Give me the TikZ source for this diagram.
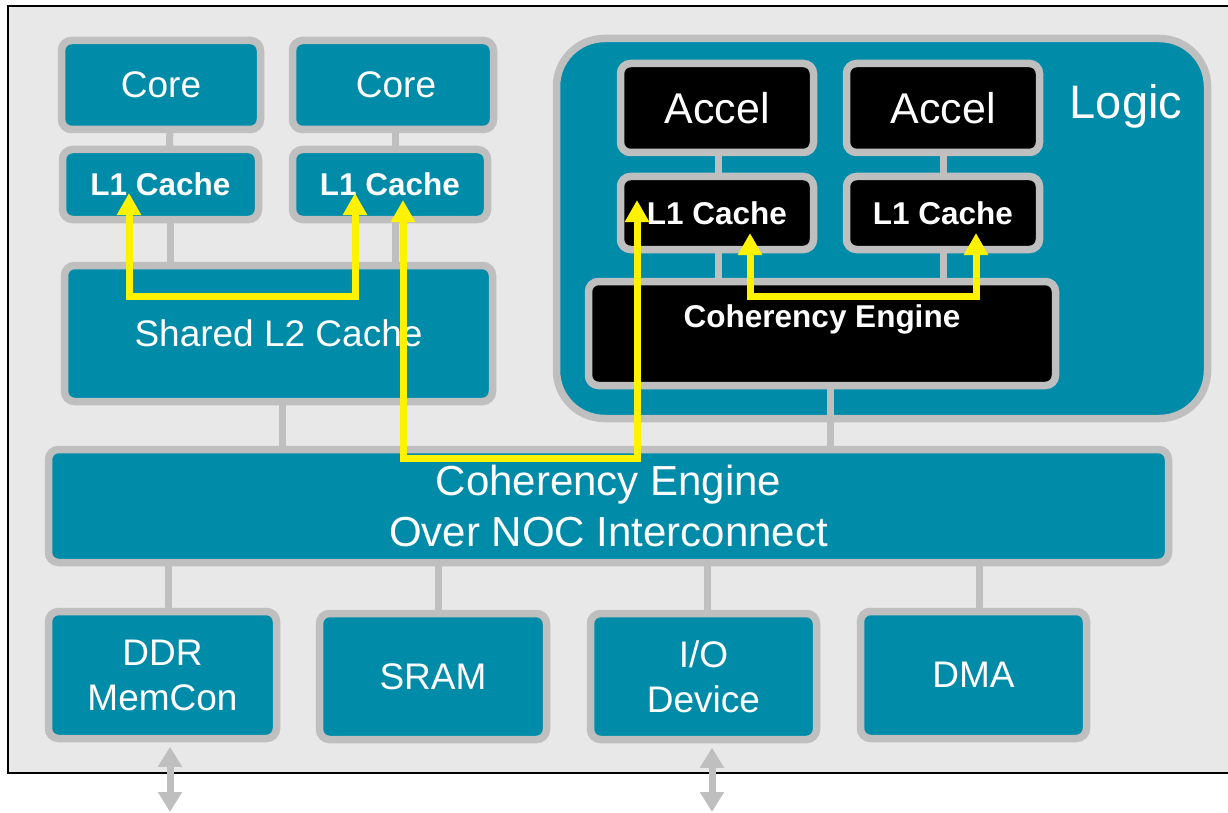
\documentclass[tikz,border=0pt]{standalone}
\usepackage{fontspec}
\setmainfont{Liberation Sans}
\usetikzlibrary{arrows.meta}
\definecolor{tealbox}{RGB}{0,139,168}
\definecolor{rim}{RGB}{191,191,191}
\definecolor{panel}{RGB}{232,232,232}
\pgfdeclarelayer{framelayer}
\pgfdeclarelayer{logiclayer}
\pgfdeclarelayer{wirelayer}
\pgfdeclarelayer{toplayer}
\pgfsetlayers{framelayer,logiclayer,wirelayer,main,toplayer}
\newcommand{\fs}[2]{\fontsize{#1}{#2}\selectfont}
\begin{document}
\begin{tikzpicture}[x=1pt,y=-1pt,
  blk/.style={draw=rim, line width=7.5pt, fill=tealbox, rounded corners=10pt,
    text=white, inner sep=0pt, align=center},
  darkblk/.style={blk, fill=black},
  wire/.style={draw=rim, line width=7pt},
  hot/.style={draw=yellow, line width=7pt,
    arrows={Triangle[length=22pt,width=23pt]-Triangle[length=22pt,width=23pt]}},
  iopin/.style={draw=rim, line width=7pt,
    arrows={Triangle[length=20pt,width=23pt]-Triangle[length=20pt,width=23pt]}},
  regular/.style={font=\fs{37}{45}},
  cachefont/.style={font=\bfseries\fs{31.5}{36}}]
\useasboundingbox (0,0) rectangle (1228,813);

% chip outline
\begin{pgfonlayer}{framelayer}
  \draw[black, line width=2pt, fill=panel] (8,6) rectangle (1240,773);
\end{pgfonlayer}

% programmable logic region
\begin{pgfonlayer}{logiclayer}
  \node[blk, rounded corners=48pt, minimum width=651pt, minimum height=380pt] (logic) at (882,228.5) {};
\end{pgfonlayer}
\node[text=white, font=\fs{47}{50}, anchor=base, inner sep=0pt] (logictxt) at (1126,119) {Logic};

% processor cluster
\node[blk, regular, minimum width=199pt, minimum height=89pt] (core1) at (161,85) {Core};
\node[blk, regular, minimum width=201pt, minimum height=89pt] (core2) at (393,85) {\hspace*{6pt}Core};
\node[blk, cachefont, minimum width=196pt, minimum height=70pt] (l1a) at (160.5,184.5) {L1 Cache};
\node[blk, cachefont, minimum width=195pt, minimum height=70pt] (l1b) at (390,184.5) {L1 Cache};
\node[blk, regular, minimum width=428pt, minimum height=136pt] (l2) at (278.5,333.5) {Shared L2 Cache};

% accelerators
\node[darkblk, font=\fs{43}{46}, minimum width=193pt, minimum height=89pt] (acc1) at (717,108) {Accel};
\node[darkblk, font=\fs{43}{46}, minimum width=193pt, minimum height=89pt] (acc2) at (943,108) {Accel};
\node[darkblk, cachefont, minimum width=193pt, minimum height=73pt] (l1c) at (717,213) {L1 Cache};
\node[darkblk, cachefont, minimum width=193pt, minimum height=73pt] (l1d) at (943,213) {L1 Cache};
\node[darkblk, font=\bfseries\fs{31.5}{36}, text depth=34pt, minimum width=467pt, minimum height=104pt] (ce) at (822,333.5) {Coherency Engine};

% interconnect
\node[blk, font=\fs{42}{51}, minimum width=1120pt, minimum height=113pt] (noc) at (608.5,506) {Coherency Engine\\Over NOC Interconnect};

% peripherals
\node[blk, regular, minimum width=228pt, minimum height=127pt] (ddr) at (162.5,675) {DDR\\MemCon};
\node[blk, regular, minimum width=227pt, minimum height=126pt] (sram) at (433,676.5) {SRAM};
\node[blk, regular, minimum width=226pt, minimum height=126pt] (io) at (703.5,676.5) {I/O\\Device};
\node[blk, regular, minimum width=226pt, minimum height=127pt] (dma) at (973.5,675) {DMA};

% grey links
\begin{pgfonlayer}{wirelayer}
  \draw[wire] ([xshift=9pt]core1.center) -- ([xshift=9pt]l1a.center);
  \draw[wire] ([xshift=9.5pt]l1a.center) -- ([xshift=9.5pt]l1a.center |- l2.center);
  \draw[wire] ([xshift=2pt]core2.center) -- ([xshift=5pt]l1b.center);
  \draw[wire] ([xshift=5pt]l1b.center) -- ([xshift=5pt]l1b.center |- l2.center);
  \draw[wire] ([xshift=3.5pt]l2.center) -- ([xshift=3.5pt]l2.center |- noc.center);
  \draw[wire] ([xshift=1pt]acc1.center) -- ([xshift=1pt]l1c.center);
  \draw[wire] ([xshift=1pt]l1c.center) -- ([xshift=1pt]l1c.center |- ce.center);
  \draw[wire] (acc2.center) -- (l1d.center);
  \draw[wire] (l1d.center) -- (l1d.center |- ce.center);
  \draw[wire] ([xshift=8pt]ce.center) -- ([xshift=8pt]ce.center |- noc.center);
  \draw[wire] ([xshift=5.5pt]ddr.center) -- ([xshift=5.5pt]ddr.center |- noc.center);
  \draw[wire] ([xshift=5pt]sram.center) -- ([xshift=5pt]sram.center |- noc.center);
  \draw[wire] ([xshift=3.5pt]io.center) -- ([xshift=3.5pt]io.center |- noc.center);
  \draw[wire] ([xshift=5.5pt]dma.center) -- ([xshift=5.5pt]dma.center |- noc.center);
\end{pgfonlayer}

% off-chip ports
\coordinate (ddrpin) at (170,812);
\coordinate (iopin) at (712,812);
\draw[iopin] ([xshift=7.5pt,yshift=-4.5pt]ddr.south) -- (ddrpin);
\draw[iopin] ([xshift=8.5pt,yshift=-4.5pt]io.south) -- (iopin);

% coherent data paths
\begin{pgfonlayer}{toplayer}
  \draw[hot] ([xshift=-31.5pt,yshift=-8.5pt]l1a.center) -- ++(0,103) -| ([xshift=-35pt,yshift=-8.5pt]l1b.center);
  \draw[hot] ([xshift=13pt,yshift=-15.5pt]l1b.center) -- ++(0,258) -| ([xshift=-80pt,yshift=13pt]l1c.center);
  \draw[hot] ([xshift=33pt,yshift=-20pt]l1c.center) -- ++(0,63) -| ([xshift=33pt,yshift=-20pt]l1d.center);
\end{pgfonlayer}
\end{tikzpicture}
\end{document}
